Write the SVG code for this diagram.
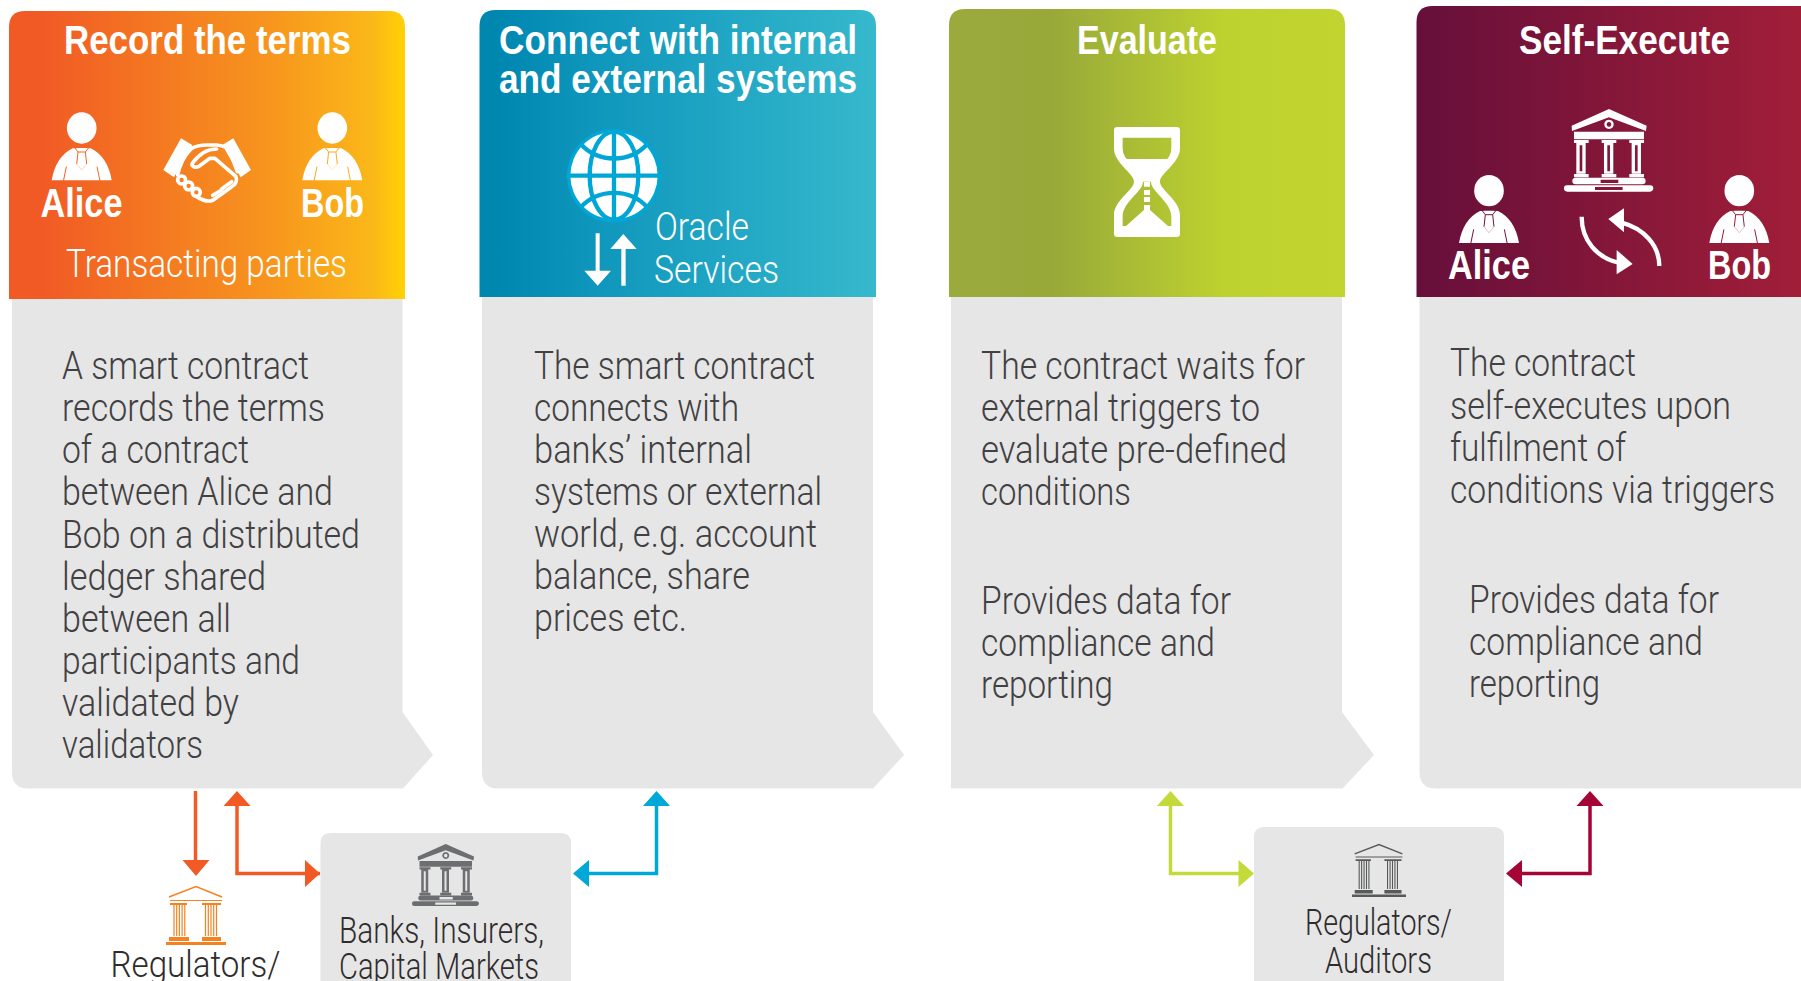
<svg xmlns="http://www.w3.org/2000/svg" width="1801" height="981" viewBox="0 0 1801 981">
<style>
text{font-family:"Roboto","Liberation Sans",sans-serif}
.b{font-weight:300;font-size:39px;fill:#414042}
.t{font-family:"Liberation Sans",Arial,sans-serif;font-weight:700;font-size:40px;fill:#fff}
.w{font-weight:300;font-size:39px;fill:#fff}
.n{font-weight:300;font-size:36px;fill:#2f2c2d}
.body{fill:#e6e6e6}
.ln{fill:none;stroke-width:3.5}
</style>
<defs>
<linearGradient id="g1"><stop offset=".08" stop-color="#f15a25"/><stop offset=".65" stop-color="#f7941e"/><stop offset=".92" stop-color="#fbb819"/><stop offset="1" stop-color="#ffd204"/></linearGradient>
<linearGradient id="g2"><stop offset=".05" stop-color="#0087b0"/><stop offset=".25" stop-color="#0c94bb"/><stop offset="1" stop-color="#36b9cd"/></linearGradient>
<linearGradient id="g3"><stop offset=".05" stop-color="#9aaa3c"/><stop offset=".26" stop-color="#98a93a"/><stop offset=".7" stop-color="#bed22f"/><stop offset="1" stop-color="#c1d430"/></linearGradient>
<linearGradient id="g4"><stop offset="0" stop-color="#660f3a"/><stop offset="1" stop-color="#a11e38"/></linearGradient>
<mask id="pm" maskUnits="userSpaceOnUse" x="-100" y="40" width="200" height="130">
<rect x="-100" y="40" width="200" height="130" fill="#fff"/>
<path d="M-55 160L-46 116M55 160L46 116M-22 58L-11 72H11L22 58M-11 72L-15 108M11 72L15 108" fill="none" stroke="#000" stroke-width="3"/>
<path d="M-15 108L0 126L15 108" fill="none" stroke="#777" stroke-width="1.500"/>
</mask>
<g id="person" fill="#fff">
<ellipse cx="0" cy="0" rx="44.500" ry="47"/>
<path mask="url(#pm)" d="M-90 157C-82 110-60 76-27 61L-10 60H10L27 61C60 76 82 110 90 157Z"/>
</g>
<path id="bank" fill-rule="evenodd" d="M515 377L627 327L740 377L738 393L627 352L516 393ZM627 359a14 14 0 1 0 .01 0ZM627 366a7 7 0 1 1-.01 0ZM522 395H732V418H522ZM522 420H566V429H522ZM605 420H649V429H605ZM688 420H732V429H688ZM529 429H557V521H529ZM539 436V514H547V436ZM612 429H640V521H612ZM622 436V514H630V436ZM695 429H723V521H695ZM705 436V514H713V436ZM522 522H566V532H522ZM605 522H649V532H605ZM688 522H732V532H688ZM527 533H727Q737 533 737 543T727 553H527Q517 553 517 543T527 533ZM602 539V549H655V539ZM502 556H750Q760 556 760 565T750 575H502Q492 575 492 565T502 556ZM585 561V570H668V561Z"/>
<g id="reg">
<path d="M-27 11L0 .6L26 11" fill="none" stroke="currentColor" stroke-width="1.600"/>
<path d="M-26 14.500H26" stroke="currentColor" stroke-width="1.200"/>
<path d="M-26 17H-9V19H-26ZM6 17H25V19H6ZM-27 51H-7V55H-27ZM6 51H25V55H6ZM-30 56H30V59H-30Z" fill="currentColor"/>
<path d="M-22 19V50M-19.300 19V50M-16.600 19V50M-13.900 19V50M-11.200 19V50M9.500 19V50M12.300 19V50M15 19V50M17.700 19V50M20.500 19V50" stroke="currentColor" stroke-width="1.200"/>
</g>
</defs>

<g id="node-record">
<path class="body" d="M12 295H402.500V712L433 755L403 788.500H28Q12 788.500 12 772Z"/>
<path fill="url(#g1)" d="M9 299V27Q9 11 25 11H389Q405 11 405 27V299Z"/>
<text class="t" x="64" y="54" textLength="287" lengthAdjust="spacingAndGlyphs">Record the terms</text>
<use href="#person" transform="translate(81.700 128) scale(.3333)"/>
<use href="#person" transform="translate(332.300 128) scale(.3333)"/>
<text class="t" x="40.500" y="217" textLength="82" lengthAdjust="spacingAndGlyphs">Alice</text>
<text class="t" x="301" y="217" textLength="63" lengthAdjust="spacingAndGlyphs">Bob</text>
<g transform="scale(.3333)">
<path fill="#fff" d="M543 415L577 435L522 532L490 510ZM700 415L667 435L722 532L753 510Z"/>
<g fill="none" stroke="#fff" stroke-width="11" stroke-linecap="round" stroke-linejoin="round">
<path d="M575 445C590 437 605 435 620 435H650C670 437 680 442 688 450L712 515"/>
<path d="M650 447C620 447 595 465 577 490C573 498 585 505 595 500L630 475H645L708 530C712 545 705 555 695 560L640 600C625 607 605 600 590 590"/>
<path d="M575 445C555 465 540 490 533 525"/>
<path d="M695 545L665 567M665 570L638 586"/>
<circle cx="545" cy="540" r="12"/><circle cx="566" cy="558" r="12"/><circle cx="589" cy="577" r="12"/>
</g>
</g>
<text class="w" x="66" y="277" textLength="281" lengthAdjust="spacingAndGlyphs">Transacting parties</text>
<g class="b">
<text x="62" y="379" textLength="247" lengthAdjust="spacingAndGlyphs">A smart contract</text>
<text x="62" y="421" textLength="263" lengthAdjust="spacingAndGlyphs">records the terms</text>
<text x="62" y="463" textLength="187" lengthAdjust="spacingAndGlyphs">of a contract</text>
<text x="62" y="505" textLength="271" lengthAdjust="spacingAndGlyphs">between Alice and</text>
<text x="62" y="547.500" textLength="298" lengthAdjust="spacingAndGlyphs">Bob on a distributed</text>
<text x="62" y="589.500" textLength="204" lengthAdjust="spacingAndGlyphs">ledger shared</text>
<text x="62" y="631.500" textLength="169" lengthAdjust="spacingAndGlyphs">between all</text>
<text x="62" y="673.500" textLength="238" lengthAdjust="spacingAndGlyphs">participants and</text>
<text x="62" y="716" textLength="177" lengthAdjust="spacingAndGlyphs">validated by</text>
<text x="62" y="758" textLength="141" lengthAdjust="spacingAndGlyphs">validators</text>
</g>
</g>

<g id="node-connect">
<path class="body" d="M482 293H873V712L904 755L873 788.500H498Q482 788.500 482 772Z"/>
<path fill="url(#g2)" d="M479.500 297V26Q479.500 10 495.500 10H860Q876 10 876 26V297Z"/>
<text class="t" x="499" y="54" textLength="358" lengthAdjust="spacingAndGlyphs">Connect with internal</text>
<text class="t" x="499" y="93" textLength="358" lengthAdjust="spacingAndGlyphs">and external systems</text>
<g transform="translate(470 0) scale(.3333)">
<circle cx="432" cy="527" r="141" fill="#00a6d6"/>
<circle cx="432" cy="527" r="131" fill="#fff"/>
<g fill="none" stroke="#00a6d6" stroke-width="13">
<path d="M296 527H568M432 396V658"/>
<ellipse cx="432" cy="527" rx="73" ry="132"/>
<path d="M332 432C385 490 480 490 532 432M332 622C385 564 480 564 532 622"/>
</g>
<path fill="#fff" d="M377 700H389V812H423L383 857L343 812H377ZM454 857H467V747H500L460 702L421 747H454Z"/>
</g>
<text class="w" x="655" y="240" textLength="94" lengthAdjust="spacingAndGlyphs">Oracle</text>
<text class="w" x="654" y="283" textLength="125" lengthAdjust="spacingAndGlyphs">Services</text>
<g class="b">
<text x="534" y="379" textLength="281" lengthAdjust="spacingAndGlyphs">The smart contract</text>
<text x="534" y="421" textLength="205" lengthAdjust="spacingAndGlyphs">connects with</text>
<text x="534" y="463" textLength="218" lengthAdjust="spacingAndGlyphs">banks’ internal</text>
<text x="534" y="505" textLength="288" lengthAdjust="spacingAndGlyphs">systems or external</text>
<text x="534" y="547" textLength="283" lengthAdjust="spacingAndGlyphs">world, e.g. account</text>
<text x="534" y="589" textLength="216" lengthAdjust="spacingAndGlyphs">balance, share</text>
<text x="534" y="631" textLength="153" lengthAdjust="spacingAndGlyphs">prices etc.</text>
</g>
</g>

<g id="node-evaluate">
<path class="body" d="M951 293H1342V712L1374 755L1342.500 788.500H951Z"/>
<path fill="url(#g3)" d="M949 297V25Q949 9 965 9H1329Q1345 9 1345 25V297Z"/>
<text class="t" x="1077" y="54" textLength="140" lengthAdjust="spacingAndGlyphs">Evaluate</text>
<g transform="translate(940 0) scale(.3333)" fill="#fff">
<path fill-rule="evenodd" d="M532 381H710Q720 381 720 391V445C720 490 660 520 660 545C660 570 720 600 720 645V701Q720 711 710 711H532Q522 711 522 701V645C522 600 582 570 582 545C582 520 522 490 522 445V391Q522 381 532 381ZM548 413V445C548 460 554 470 560 477H682C688 470 694 460 694 445V413ZM609 545C609 575 548 605 548 650V678H558L612 630H630L684 678H694V650C694 605 633 575 633 545Z"/>
<path d="M612 546H630V560H612ZM612 570H630V585H612ZM612 591H630V606H612ZM612 615H630V631H612Z"/>
</g>
<g class="b">
<text x="981" y="378.500" textLength="324" lengthAdjust="spacingAndGlyphs">The contract waits for</text>
<text x="981" y="420.500" textLength="279" lengthAdjust="spacingAndGlyphs">external triggers to</text>
<text x="981" y="462.500" textLength="306" lengthAdjust="spacingAndGlyphs">evaluate pre-defined</text>
<text x="981" y="504.500" textLength="150" lengthAdjust="spacingAndGlyphs">conditions</text>
<text x="981" y="614" textLength="250" lengthAdjust="spacingAndGlyphs">Provides data for</text>
<text x="981" y="656" textLength="234" lengthAdjust="spacingAndGlyphs">compliance and</text>
<text x="981" y="698" textLength="132" lengthAdjust="spacingAndGlyphs">reporting</text>
</g>
</g>

<g id="node-execute">
<path class="body" d="M1419.500 293H1801V788.500H1436Q1419.500 788.500 1419.500 772Z"/>
<path fill="url(#g4)" d="M1416.500 297V22Q1416.500 6 1432.500 6H1801V297Z"/>
<text class="t" x="1519" y="54" textLength="211" lengthAdjust="spacingAndGlyphs">Self-Execute</text>
<use href="#bank" fill="#fff" transform="translate(1400 0) scale(.3333)"/>
<use href="#person" transform="translate(1489 190.700) scale(.3333)"/>
<use href="#person" transform="translate(1739.300 190.700) scale(.3333)"/>
<text class="t" x="1448" y="279" textLength="82" lengthAdjust="spacingAndGlyphs">Alice</text>
<text class="t" x="1708" y="279" textLength="63" lengthAdjust="spacingAndGlyphs">Bob</text>
<g transform="translate(1400 0) scale(.3333)">
<path d="M545 650C545 720 590 775 660 789M778 798C778 735 730 685 665 668" fill="none" stroke="#fff" stroke-width="13"/>
<path fill="#fff" d="M650 750L698 792L650 823ZM625 657L672 625L672 697Z"/>
</g>
<g class="b">
<text x="1450" y="376" textLength="186" lengthAdjust="spacingAndGlyphs">The contract</text>
<text x="1450" y="418.500" textLength="281" lengthAdjust="spacingAndGlyphs">self-executes upon</text>
<text x="1450" y="460.500" textLength="176" lengthAdjust="spacingAndGlyphs">fulfilment of</text>
<text x="1450" y="502.500" textLength="325" lengthAdjust="spacingAndGlyphs">conditions via triggers</text>
<text x="1469" y="612.500" textLength="250" lengthAdjust="spacingAndGlyphs">Provides data for</text>
<text x="1469" y="655" textLength="234" lengthAdjust="spacingAndGlyphs">compliance and</text>
<text x="1469" y="697" textLength="131" lengthAdjust="spacingAndGlyphs">reporting</text>
</g>
</g>

<g id="node-regulators-left" style="color:#f58220">
<use href="#reg" transform="translate(196 886)"/>
<text class="n" x="110.500" y="977" textLength="170" lengthAdjust="spacingAndGlyphs">Regulators/</text>
</g>

<g id="node-banks">
<path class="body" d="M320.500 981V843Q320.500 833 330.500 833H561Q571 833 571 843V981Z"/>
<use href="#bank" fill="#6d6e71" transform="translate(289 762.250) scale(.25)"/>
<text class="n" x="339" y="943" textLength="205" lengthAdjust="spacingAndGlyphs">Banks, Insurers,</text>
<text class="n" x="339" y="979" textLength="200" lengthAdjust="spacingAndGlyphs">Capital Markets</text>
</g>

<g id="node-regulators-right" style="color:#58595b">
<path class="body" d="M1254 981V837Q1254 827 1264 827H1494Q1504 827 1504 837V981Z"/>
<use href="#reg" transform="translate(1379 844) scale(.9)"/>
<text class="n" x="1305" y="935" textLength="147" lengthAdjust="spacingAndGlyphs">Regulators/</text>
<text class="n" x="1325" y="973" textLength="107" lengthAdjust="spacingAndGlyphs">Auditors</text>
</g>

<g id="connectors">
<path class="ln" stroke="#f15a25" d="M195.500 791V861"/>
<path fill="#f15a25" d="M182.500 860H209.500L196 876Z"/>
<path class="ln" stroke="#f15a25" d="M320 873.500H237V805"/>
<path fill="#f15a25" d="M223.500 806L237 791L250.500 806ZM305 860L320 873.500L305 887Z"/>
<path class="ln" stroke="#00a8d8" d="M589 873.500H656.500V805"/>
<path fill="#00a8d8" d="M643 806L656.500 791L670 806ZM589 860L573 873.500L589 887Z"/>
<path class="ln" stroke="#c4d93a" d="M1240 873.500H1170.500V805"/>
<path fill="#c4d93a" d="M1157 806L1170.500 791L1184 806ZM1238.500 860L1254 873.500L1238.500 887Z"/>
<path class="ln" stroke="#a50534" d="M1522 873.500H1590V805"/>
<path fill="#a50534" d="M1576.500 806L1590 791L1603.500 806ZM1522 860L1506 873.500L1522 887Z"/>
</g>
</svg>
